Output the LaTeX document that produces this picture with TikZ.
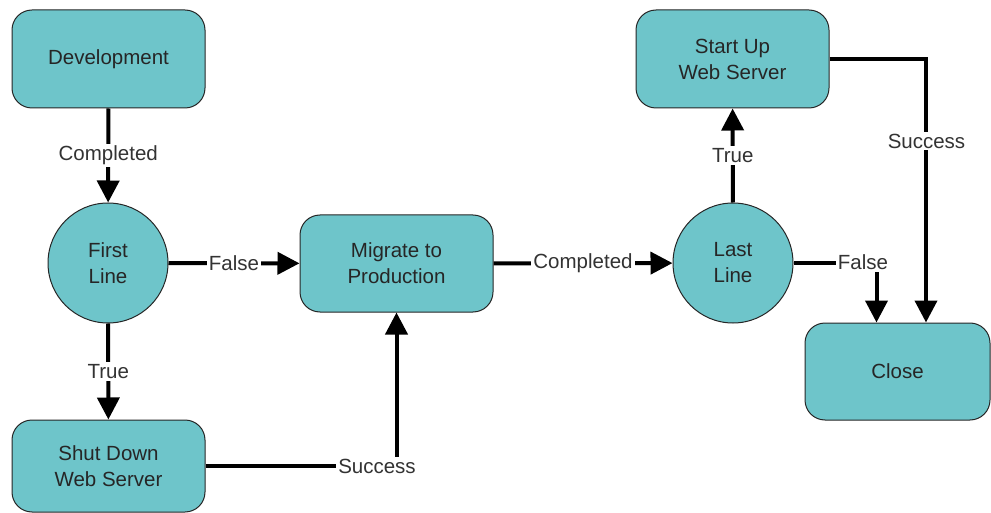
\documentclass[tikz,border=0pt]{standalone}
\usepackage{fontspec}
\setmainfont{Liberation Sans}
\usetikzlibrary{arrows.meta,calc}
\definecolor{boxfill}{HTML}{6EC5CA}
\definecolor{inkdark}{HTML}{262626}
\definecolor{tagink}{HTML}{333333}

\begin{document}
\begin{tikzpicture}[x=1pt,y=-1pt,
  every node/.style={font=\fontsize{20.5}{26}\selectfont, text=inkdark},
  stepbox/.style={draw=inkdark, line width=1pt, fill=boxfill, rounded corners=20pt,
    minimum width=193pt, minimum height=98pt, align=center, inner sep=0pt},
  decision/.style={circle, draw=inkdark, line width=1pt, fill=boxfill,
    minimum size=120pt, inner sep=0pt, align=center},
  flow/.style={line width=4pt, -{Triangle[length=22pt,width=22pt]}},
  tag/.style={fill=white, inner sep=2pt, text=tagink}
]
\useasboundingbox (0,0) rectangle (991,513);

% process steps and decisions
\node[stepbox] (dev) at (108.5,59) {Development};
\node[decision] (fl) at (108,263) {First\\Line};
\node[stepbox, minimum height=92pt] (sd) at (108.5,466) {Shut Down\\Web Server};
\node[stepbox, minimum height=97pt] (mig) at (396.5,263.5) {Migrate to\\Production};
\node[decision] (ll) at (733,263) {Last\\Line};
\node[stepbox] (su) at (732.5,59) {Start Up\\Web Server};
\node[stepbox, minimum width=185pt, minimum height=97pt] (close) at (897.5,371.5) {Close};

% end points on top of Close
\coordinate (cfalse) at ($(close.north)+(-21,0)$);
\coordinate (csucc) at ($(close.north)+(28.5,0)$);

% straight connectors with centred labels
\draw[flow] (dev) -- node[tag] (lc1) {Completed} (fl);
\draw[flow] (fl) -- node[tag] (lf1) {False} (mig);
\draw[flow] (fl) -- node[tag] (lt1) {True} (sd);
\draw[flow] (mig) -- node[tag] (lc2) {Completed} (ll);
\draw[flow] (ll) -- node[tag] (lt2) {True} (su);

% elbow connectors, labels sit on the bend
\draw[flow] (sd.east) -| (mig.south);
\node[tag] (ls1) at (377,466) {Success};
\draw[flow] (su.east) -| (csucc);
\node[tag] (ls2) at (926.5,141) {Success};
\draw[flow] (ll.east) -| (cfalse);
\node[tag] (lf2) at (863,262) {False};
\end{tikzpicture}
\end{document}
